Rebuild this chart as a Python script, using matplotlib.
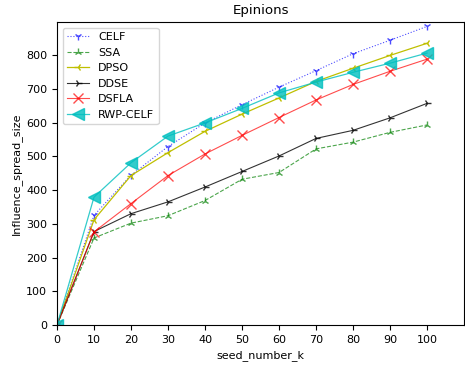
import matplotlib
matplotlib.use("Agg")
import matplotlib.pyplot as plt

# seed numbers and influence spread per method
seed_k = [0, 10, 20, 30, 40, 50, 60, 70, 80, 90, 100]

celf = [0, 325, 444, 529, 599, 653, 705, 754, 804, 844, 885]
ssa = [0, 258, 302, 324, 369, 432, 452, 522, 542, 571, 593]
dpso = [0, 312, 443, 511, 574, 625, 673, 722, 761, 799, 835]
ddse = [0, 277, 330, 365, 409, 455, 501, 553, 577, 614, 657]
dsfla = [0, 276, 360, 443, 507, 562, 615, 667, 713, 752, 788]
rwp_celf = [0, 379, 481, 560, 599, 642, 688, 720, 749, 776, 806]


def main():
    plt.rcParams.update({
        "font.size": 8,
        "axes.linewidth": 0.8,
        "xtick.major.width": 0.8,
        "ytick.major.width": 0.8,
    })
    fig, ax = plt.subplots(figsize=(4.65, 3.67), dpi=100)

    ax.plot(seed_k, celf, color="b", marker="1", linestyle=":", lw=0.8,
            ms=6, alpha=0.7, label="CELF")
    ax.plot(seed_k, ssa, color="g", marker="2", linestyle="--", lw=0.8,
            ms=6, alpha=0.7, label="SSA")
    ax.plot(seed_k, dpso, color="y", marker="3", linestyle="-", lw=0.9,
            ms=6, label="DPSO")
    ax.plot(seed_k, ddse, color="k", marker="4", linestyle="-", lw=0.8,
            ms=6, alpha=0.8, label="DDSE")
    ax.plot(seed_k, dsfla, color="r", marker="x", linestyle="-", lw=0.8,
            ms=7, alpha=0.7, label="DSFLA")
    ax.plot(seed_k, rwp_celf, color="c", marker="<", linestyle="-", lw=0.9,
            ms=8, alpha=0.8, label="RWP-CELF")

    ax.set_xlim(0, 110)
    ax.set_ylim(0, 898)
    ax.set_xticks(range(0, 101, 10))
    ax.set_title("Epinions")
    ax.set_xlabel("seed_number_k")
    ax.set_ylabel("Influence_spread_size", labelpad=3)
    ax.legend(loc="upper left")

    fig.subplots_adjust(left=0.1226, right=0.998, top=0.940, bottom=0.1144)
    fig.savefig("out.png", dpi=100, facecolor="white")
    plt.close(fig)


if __name__ == "__main__":
    main()
